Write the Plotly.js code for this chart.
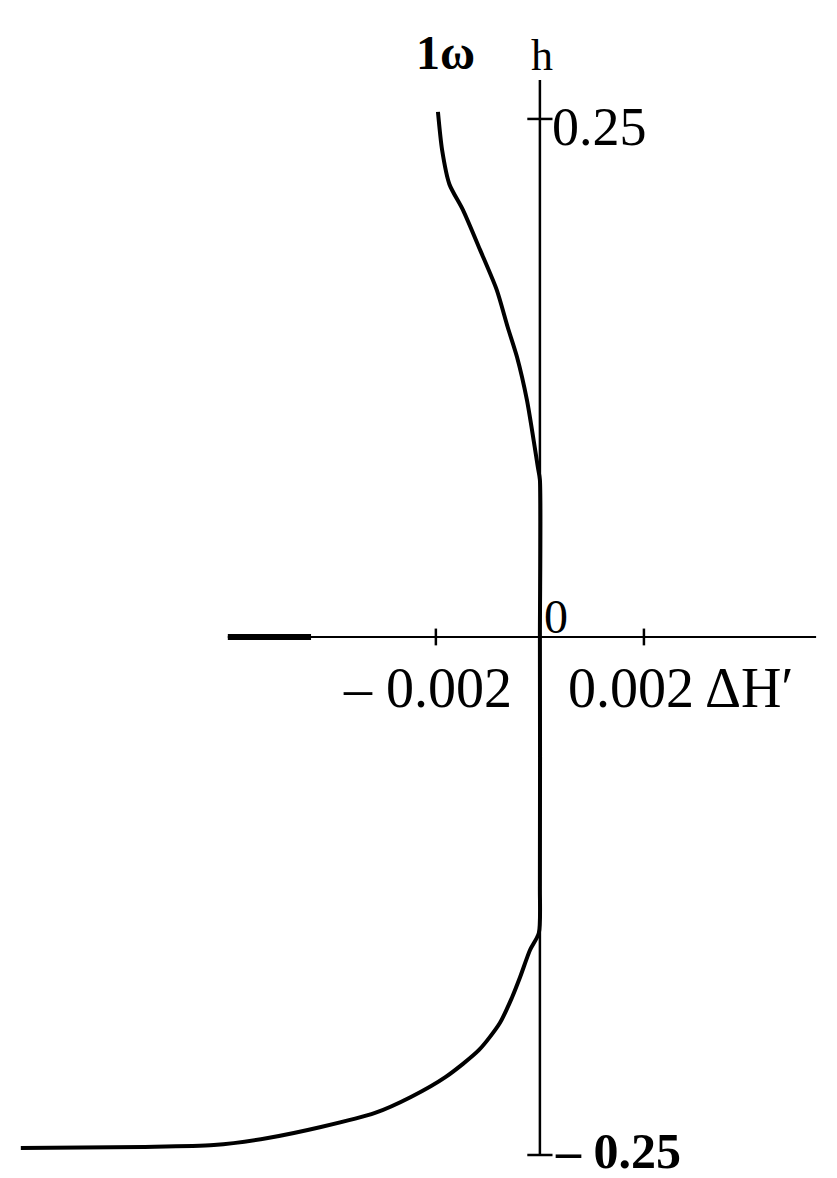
<!DOCTYPE html>
<html>
<head>
<meta charset="utf-8">
<script src="https://cdn.plot.ly/plotly-3.0.1.min.js"></script>
<style>
html,body{margin:0;padding:0;background:#fff;}
#chart{width:837px;height:1178px;}
</style>
</head>
<body>
<div id="chart"></div>
<script>
// Curve 1ω : ΔH' versus h
const dH = [-0.00196, -0.00188, -0.00174, -0.00148, -0.00115, -0.00083, -0.00062, -0.00044, -0.00025, -0.00010, -0.00004, 0, 0, 0, -0.00002, -0.00019, -0.00038, -0.00054, -0.00077, -0.00117, -0.00181, -0.00248, -0.00317, -0.00421, -0.00523, -0.00627, -0.00763, -0.00998];
const h  = [0.2534, 0.2350, 0.2185, 0.2061, 0.1868, 0.1675, 0.1496, 0.1351, 0.1144, 0.0917, 0.0820, 0.0758, 0, -0.12, -0.1428, -0.1511, -0.1641, -0.1742, -0.1863, -0.1993, -0.2123, -0.2220, -0.2297, -0.2365, -0.2418, -0.2452, -0.2461, -0.2466];

// Axis ticks
const xTickVals = [-0.002, 0.002];
const xTickText = ['– 0.002', '0.002 ΔH′'];
const yTickVals = [0.25, -0.25];
const yTickText = ['0.25', '– 0.25'];

// Axis extents
const xAxisLeft = -0.0060, xAxisThickEnd = -0.0044, xAxisRight = 0.00531;
const yAxisTop = 0.2688, yAxisBottom = -0.25;

const black = '#000';
const serif = 'Liberation Serif, DejaVu Serif, serif';

const traces = [
  {x: dH, y: h, mode: 'lines', type: 'scatter',
   line: {color: black, width: 4, shape: 'spline', smoothing: 0.7}, hoverinfo: 'skip', showlegend: false},
  {x: xTickVals, y: xTickVals.map(() => 0), mode: 'markers', type: 'scatter',
   marker: {symbol: 'line-ns', size: 12, line: {color: black, width: 2.5}},
   hoverinfo: 'skip', showlegend: false},
  {x: yTickVals.map(() => 0), y: yTickVals, mode: 'markers', type: 'scatter',
   marker: {symbol: 'line-ew', size: 18, line: {color: black, width: 2.5}},
   hoverinfo: 'skip', showlegend: false}
];

const annotations = [
  {x: -0.001808, y: 0.2823, xref: 'x', yref: 'y', text: '1ω', showarrow: false,
   xanchor: 'center', yanchor: 'middle', font: {family: serif, size: 48, color: black, weight: 'bold'}},
  {x: 0.00004, y: 0.2804, xref: 'x', yref: 'y', text: 'h', showarrow: false,
   xanchor: 'center', yanchor: 'middle', font: {family: serif, size: 44, color: black}},
  {x: 0.000308, y: 0.0097, xref: 'x', yref: 'y', text: '0', showarrow: false,
   xanchor: 'center', yanchor: 'middle', font: {family: serif, size: 48, color: black}},
  {x: 0.000192, y: yTickVals[0], xref: 'x', yref: 'y', text: yTickText[0], showarrow: false,
   xanchor: 'left', yanchor: 'middle', yshift: -8, font: {family: serif, size: 54, color: black}},
  {x: 0.00025, y: yTickVals[1], xref: 'x', yref: 'y', text: yTickText[1], showarrow: false,
   xanchor: 'left', yanchor: 'middle', yshift: 4, font: {family: serif, size: 50, color: black, weight: 'bold'}},
  {x: -0.0005, y: -0.0246, xref: 'x', yref: 'y', text: xTickText[0], showarrow: false,
   xanchor: 'right', yanchor: 'middle', font: {family: serif, size: 56, color: black}},
  {x: 0.00050, y: -0.0246, xref: 'x', yref: 'y', text: xTickText[1], showarrow: false,
   xanchor: 'left', yanchor: 'middle', font: {family: serif, size: 56, color: black}}
];

const shapes = [
  {type: 'line', xref: 'x', yref: 'y', x0: 0, x1: 0, y0: yAxisBottom, y1: yAxisTop,
   line: {color: black, width: 2.5}},
  {type: 'line', xref: 'x', yref: 'y', x0: xAxisLeft, x1: xAxisRight, y0: 0, y1: 0,
   line: {color: black, width: 2}},
  {type: 'line', xref: 'x', yref: 'y', x0: xAxisLeft, x1: xAxisThickEnd, y0: 0, y1: 0,
   line: {color: black, width: 6}}
];

const layout = {
  width: 837, height: 1178,
  margin: {l: 0, r: 0, t: 0, b: 0},
  paper_bgcolor: '#fff', plot_bgcolor: '#fff',
  showlegend: false,
  xaxis: {range: [-0.01038, 0.005712], visible: false, fixedrange: true},
  yaxis: {range: [-0.2611, 0.3074], visible: false, fixedrange: true},
  annotations: annotations,
  shapes: shapes
};

Plotly.newPlot('chart', traces, layout, {staticPlot: true, displayModeBar: false});
</script>
</body>
</html>
